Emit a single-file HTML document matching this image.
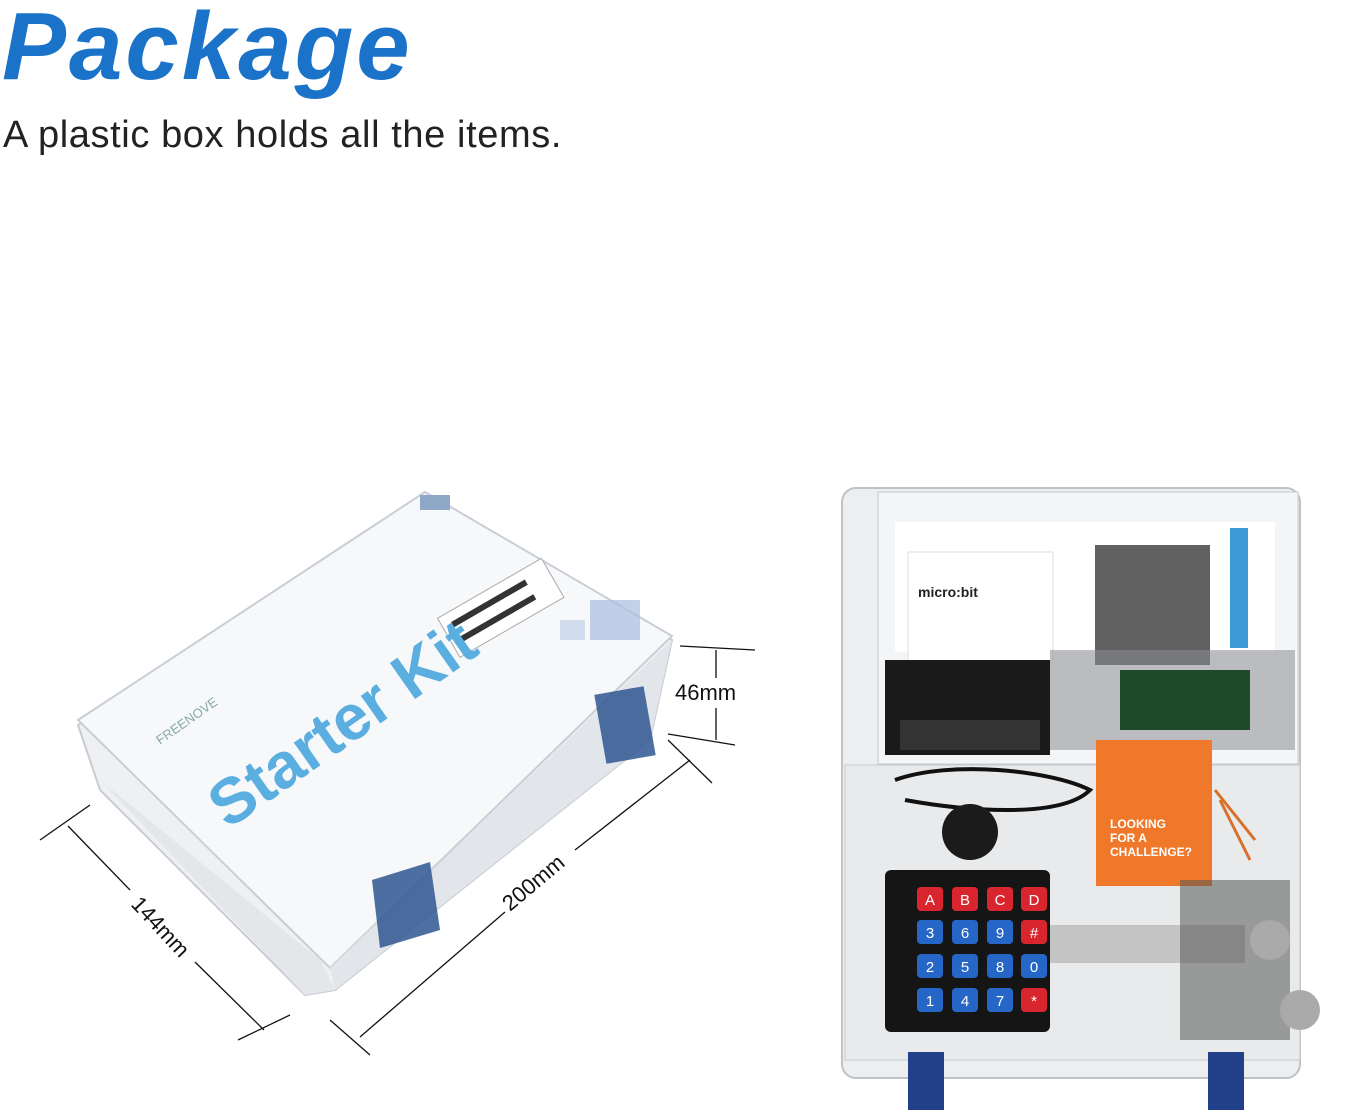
<!DOCTYPE html>
<html><head><meta charset="utf-8"><style>
html,body{margin:0;padding:0;background:#fff;width:1347px;height:1119px;overflow:hidden;position:relative;font-family:"Liberation Sans",sans-serif}
.t{position:absolute;left:2px;top:-8px;font-size:96px;font-weight:bold;font-style:italic;color:#1a73c8;letter-spacing:3px}
.s{position:absolute;left:3px;top:114px;font-size:38px;color:#222;letter-spacing:0.6px}
svg{position:absolute;left:0;top:0}
</style></head><body>
<div class="t">Package</div>
<div class="s">A plastic box holds all the items.</div>
<svg width="1347" height="1119" viewBox="0 0 1347 1119" font-family="Liberation Sans, sans-serif">
<polygon points="78,725 100,790 305,995 335,990 650,740 672,640 425,492" fill="#eef0f2" stroke="#c8ccd2" stroke-width="2"/>
<polygon points="78,720 425,492 672,636 330,968" fill="#f7f8fa" stroke="#c9ced6" stroke-width="2"/>
<polygon points="100,780 320,960 335,990 305,995" fill="#e4e6ea"/>
<polygon points="330,968 672,640 650,740 335,990" fill="#e2e5ea"/>
<polygon points="420,495 450,495 450,510 420,510" fill="#8fa8c8"/>
<polygon points="600,690 650,690 650,760 600,760" fill="#2f5690" opacity=".85" transform="rotate(-10 625 725)"/>
<polygon points="372,880 430,862 440,930 380,948" fill="#2f5690" opacity=".85"/>
<rect x="590" y="600" width="50" height="40" fill="#a8bede" opacity=".7"/>
<rect x="560" y="620" width="25" height="20" fill="#c0d0e6" opacity=".7"/>
<g transform="rotate(-30 450 640)">
<rect x="450" y="615" width="120" height="45" fill="#fff" stroke="#aaa"/>
<rect x="460" y="625" width="85" height="6" fill="#333"/>
<rect x="460" y="642" width="85" height="6" fill="#333"/>
</g>
<text x="228" y="830" font-size="64" font-weight="bold" fill="#5aaee0" transform="rotate(-35 228 830)">Starter Kit</text>
<text x="160" y="745" font-size="13" fill="#8aa" transform="rotate(-35 160 745)">FREENOVE</text>
<g stroke="#111" stroke-width="1.3" fill="none">
<line x1="680" y1="646" x2="755" y2="650"/><line x1="668" y1="734" x2="735" y2="745"/>
<line x1="716" y1="650" x2="716" y2="678"/><line x1="716" y1="708" x2="716" y2="740"/>
<line x1="40" y1="840" x2="90" y2="805"/><line x1="238" y1="1040" x2="290" y2="1015"/>
<line x1="68" y1="826" x2="130" y2="890"/><line x1="195" y1="962" x2="264" y2="1030"/>
<line x1="330" y1="1020" x2="370" y2="1055"/><line x1="668" y1="740" x2="712" y2="783"/>
<line x1="360" y1="1037" x2="505" y2="912"/><line x1="575" y1="850" x2="690" y2="760"/>
</g>
<text x="675" y="700" font-size="22" fill="#111">46mm</text>
<text x="130" y="905" font-size="22" fill="#111" transform="rotate(47 130 905)">144mm</text>
<text x="510" y="912" font-size="22" fill="#111" transform="rotate(-40 510 912)">200mm</text>
<rect x="842" y="488" width="458" height="590" rx="14" fill="#eceef0" stroke="#bfc3c8" stroke-width="2"/>
<rect x="878" y="492" width="420" height="272" fill="#f4f5f7" stroke="#c6c9ce"/>
<rect x="895" y="522" width="380" height="130" fill="#fff"/>
<rect x="1230" y="528" width="18" height="120" fill="#3d9ad6"/>
<rect x="908" y="552" width="145" height="110" fill="#fff" stroke="#ddd"/>
<text x="918" y="597" font-size="14" font-weight="bold" fill="#222">micro:bit</text>
<rect x="1095" y="545" width="115" height="120" fill="#3a3a3a" opacity=".8"/>
<rect x="1050" y="650" width="245" height="100" fill="#8a8d92" opacity=".55"/>
<rect x="1120" y="670" width="130" height="60" fill="#1e4a2a"/>
<rect x="885" y="660" width="165" height="95" fill="#1a1a1a"/>
<rect x="900" y="720" width="140" height="30" fill="#333"/>
<rect x="845" y="765" width="455" height="295" fill="#e8eaec" stroke="#c6c9ce"/>
<path d="M895 780 C950 760 1050 770 1090 790 C1060 820 960 810 905 800" stroke="#111" stroke-width="4" fill="none"/>
<rect x="1096" y="740" width="116" height="146" fill="#f0782a"/>
<text x="1110" y="828" font-size="12" font-weight="bold" fill="#fff">LOOKING</text>
<text x="1110" y="842" font-size="12" font-weight="bold" fill="#fff">FOR A</text>
<text x="1110" y="856" font-size="12" font-weight="bold" fill="#fff">CHALLENGE?</text>
<circle cx="970" cy="832" r="28" fill="#1b1b1b"/>
<rect x="1045" y="925" width="200" height="38" fill="#c4c4c4"/>
<rect x="1180" y="880" width="110" height="160" fill="#555" opacity=".55"/>
<circle cx="1270" cy="940" r="20" fill="#aaa"/>
<circle cx="1300" cy="1010" r="20" fill="#aaa"/>
<path d="M1215 790 l40 50 M1220 800 l30 60" stroke="#d8702a" stroke-width="3"/>
<rect x="885" y="870" width="165" height="162" rx="6" fill="#151515"/>
<g font-size="15" fill="#fff" text-anchor="middle">
<g fill="#d9262e"><rect x="917" y="887" width="26" height="24" rx="4"/><rect x="952" y="887" width="26" height="24" rx="4"/><rect x="987" y="887" width="26" height="24" rx="4"/><rect x="1021" y="887" width="26" height="24" rx="4"/>
<rect x="1021" y="920" width="26" height="24" rx="4"/><rect x="1021" y="988" width="26" height="24" rx="4"/></g>
<g fill="#2566c6"><rect x="917" y="920" width="26" height="24" rx="4"/><rect x="952" y="920" width="26" height="24" rx="4"/><rect x="987" y="920" width="26" height="24" rx="4"/>
<rect x="917" y="954" width="26" height="24" rx="4"/><rect x="952" y="954" width="26" height="24" rx="4"/><rect x="987" y="954" width="26" height="24" rx="4"/><rect x="1021" y="954" width="26" height="24" rx="4"/>
<rect x="917" y="988" width="26" height="24" rx="4"/><rect x="952" y="988" width="26" height="24" rx="4"/><rect x="987" y="988" width="26" height="24" rx="4"/></g>
<text x="930" y="905">A</text><text x="965" y="905">B</text><text x="1000" y="905">C</text><text x="1034" y="905">D</text>
<text x="930" y="938">3</text><text x="965" y="938">6</text><text x="1000" y="938">9</text><text x="1034" y="938">#</text>
<text x="930" y="972">2</text><text x="965" y="972">5</text><text x="1000" y="972">8</text><text x="1034" y="972">0</text>
<text x="930" y="1006">1</text><text x="965" y="1006">4</text><text x="1000" y="1006">7</text><text x="1034" y="1006">*</text>
</g>
<rect x="908" y="1052" width="36" height="58" fill="#223f8a"/>
<rect x="1208" y="1052" width="36" height="58" fill="#223f8a"/>
</svg>
</body></html>
